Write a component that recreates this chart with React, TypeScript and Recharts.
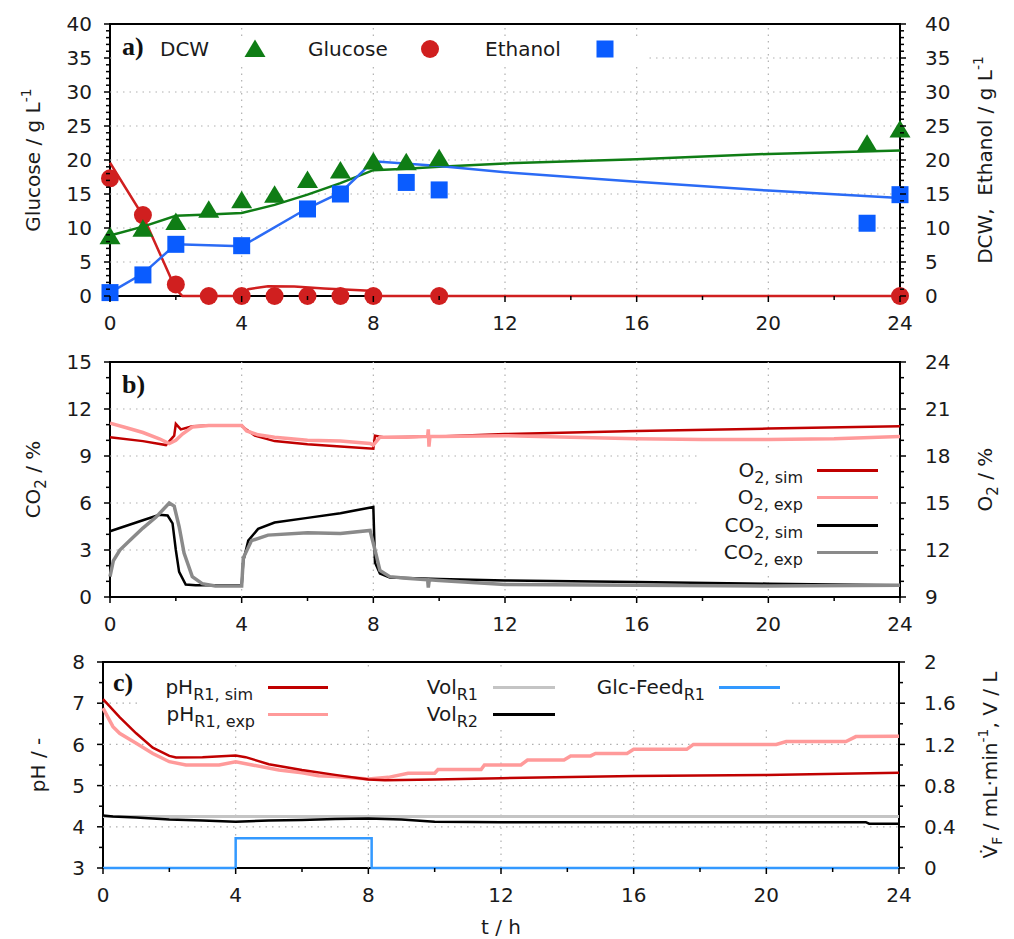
import React from 'react'
import { ComposedChart, Line, Scatter, XAxis, YAxis, ReferenceLine, ReferenceArea, Label } from 'recharts'

const FONT = '"DejaVu Sans", Verdana, sans-serif'
const SERIF = '"Liberation Serif", "DejaVu Serif", serif'

const GREEN = '#0f7d15'
const RED = '#d01f1f'
const BLUE = '#0a5cff'
const BLUE_LINE = '#2b6bf5'
const DARKRED = '#c00000'
const PINK = '#ff9a9a'
const GREY = '#8a8a8a'
const LIGHTGREY = '#c4c4c4'
const FEED = '#3399ff'

// time axis (h)
const xMajor = [0, 4, 8, 12, 16, 20, 24]
const xMinor = [2, 6, 10, 14, 18, 22]
const xGrid = [4, 8, 12, 16, 20]

// ---- a) offline samples
const dcwT = [0, 1, 2, 3, 4, 5, 6, 7, 8, 9, 10, 23, 24]
const dcwExp = [8.7, 9.8, 10.8, 12.6, 14.0, 14.8, 17.0, 18.4, 19.7, 19.6, 20.2, 22.3, 24.4]
const glcT = [0, 1, 2, 3, 4, 5, 6, 7, 8, 10, 24]
const glcExp = [17.3, 11.9, 1.7, 0, 0, 0, 0, 0, 0, 0, 0]
const etohT = [0, 1, 2, 4, 6, 7, 9, 10, 23, 24]
const etohExp = [0.5, 3.1, 7.6, 7.4, 12.8, 15.0, 16.7, 15.6, 10.7, 14.9]

// ---- a) simulation
const dcwSimT = [0, 1, 2, 3, 4, 5, 6, 7, 8, 9, 10, 12, 16, 20, 24]
const dcwSim = [8.9, 10.2, 11.8, 12.0, 12.2, 13.4, 14.9, 16.6, 18.5, 18.7, 19.0, 19.5, 20.1, 20.9, 21.4]
const glcSimT = [0, 1, 2, 2.2, 4, 4.2, 4.8, 5.6, 6.5, 7.6, 8.0, 8.1, 24]
const glcSim = [19.6, 11.8, 1.0, 0, 0, 1.0, 1.45, 1.4, 1.1, 0.85, 0.75, 0, 0]
const etohSimT = [0, 1, 2, 4, 6, 7, 8, 10, 12, 16, 20, 24]
const etohSim = [0.5, 3.3, 7.6, 7.3, 12.9, 15.2, 19.8, 19.1, 18.2, 16.8, 15.5, 14.4]

// ---- b) off-gas
const o2ExpT = [0, 0.5, 1, 1.5, 1.8, 2.0, 2.2, 2.5, 3, 4, 4.15, 4.5, 5, 6, 7, 7.9, 8.0, 8.2, 9, 9.65, 9.67, 9.69, 9.72, 10, 12, 14, 16, 18, 20, 22, 24]
const o2Exp = [20.1, 19.8, 19.5, 19.1, 18.8, 19.0, 19.4, 19.85, 19.95, 19.95, 19.6, 19.35, 19.2, 19.0, 18.95, 18.8, 18.7, 19.2, 19.2, 19.25, 19.7, 18.6, 19.25, 19.25, 19.3, 19.2, 19.1, 19.05, 19.05, 19.1, 19.25]
const o2SimT = [0, 1, 1.7, 1.95, 2.0, 2.15, 2.5, 3, 4, 4.1, 4.4, 5, 6, 7, 8.0, 8.05, 8.3, 10, 12, 16, 20, 24]
const o2Sim = [19.2, 18.95, 18.7, 19.3, 20.05, 19.7, 19.9, 19.95, 19.95, 19.75, 19.3, 18.95, 18.75, 18.6, 18.47, 19.3, 19.2, 19.25, 19.4, 19.6, 19.75, 19.9]
const co2SimT = [0, 0.5, 1, 1.5, 1.75, 1.9, 2.0, 2.1, 2.3, 2.6, 4.0, 4.05, 4.2, 4.5, 5, 6, 7, 8.0, 8.05, 8.2, 8.5, 10, 12, 16, 20, 24]
const co2Sim = [4.2, 4.55, 4.9, 5.25, 5.2, 4.7, 3.0, 1.6, 0.8, 0.75, 0.75, 2.3, 3.6, 4.35, 4.75, 5.05, 5.35, 5.75, 2.2, 1.5, 1.25, 1.15, 1.05, 0.95, 0.85, 0.75]
const co2ExpT = [0, 0.1, 0.3, 0.6, 1, 1.4, 1.8, 1.95, 2.1, 2.25, 2.5, 2.8, 3.2, 4.0, 4.05, 4.3, 4.8, 6, 7, 7.9, 8.05, 8.2, 8.5, 9, 9.65, 9.67, 9.7, 10, 12, 16, 20, 24]
const co2Exp = [1.3, 2.3, 3.0, 3.6, 4.4, 5.1, 6.0, 5.8, 4.5, 2.8, 1.3, 0.85, 0.7, 0.7, 2.5, 3.6, 3.95, 4.1, 4.05, 4.25, 3.0, 1.7, 1.3, 1.2, 1.1, 0.6, 1.1, 1.05, 0.8, 0.75, 0.7, 0.75]

// ---- c) pH, volumes, feed
const phSimT = [0, 0.5, 1, 1.5, 2, 2.2, 3, 4, 4.3, 5, 6, 7, 8, 8.5, 10, 12, 16, 20, 24]
const phSim = [7.1, 6.66, 6.27, 5.92, 5.72, 5.68, 5.69, 5.73, 5.69, 5.52, 5.38, 5.26, 5.15, 5.13, 5.15, 5.18, 5.23, 5.26, 5.31]
const phExpT = [0, 0.3, 0.5, 1, 1.5, 2, 2.5, 3.5, 4, 4.5, 5.3, 6, 6.5, 7, 8, 8.6, 9.2, 10.0, 10.1, 11.4, 11.5, 12.6, 12.8, 13.9, 14.1, 14.7, 14.85, 15.8, 16.0, 17.6, 17.8, 20.3, 20.6, 22.4, 22.7, 24]
const phExp = [6.88, 6.43, 6.27, 6.03, 5.78, 5.58, 5.5, 5.5, 5.58, 5.5, 5.38, 5.31, 5.24, 5.22, 5.16, 5.2, 5.3, 5.3, 5.39, 5.39, 5.5, 5.5, 5.62, 5.62, 5.72, 5.72, 5.78, 5.78, 5.88, 5.88, 6.0, 6.0, 6.07, 6.07, 6.19, 6.2]
const volR1T = [0, 24]
const volR1 = [0.5, 0.5]
const volR2T = [0, 0.3, 1, 2, 3, 4, 5, 6, 7, 8, 9, 10, 12, 23, 23.1, 24]
const volR2 = [0.51, 0.5, 0.49, 0.47, 0.46, 0.45, 0.46, 0.465, 0.475, 0.48, 0.47, 0.45, 0.445, 0.445, 0.43, 0.43]
const feedT = [0, 4, 4, 8.1, 8.1, 24]
const feed = [0, 0, 0.29, 0.29, 0, 0]

// axis ticks
const aMajor = [0, 5, 10, 15, 20, 25, 30, 35, 40]
const aGrid = [5, 10, 15, 20, 25, 30, 35]
const bLeftMajor = [0, 3, 6, 9, 12, 15]
const bRightMajor = [9, 12, 15, 18, 21, 24]
const bGrid = [3, 6, 9, 12]
const cLeftMajor = [3, 4, 5, 6, 7, 8]
const cRightMajor = [0, 0.4, 0.8, 1.2, 1.6, 2]
const cGrid = [4, 5, 6, 7]

const zip = (ts: number[], vs: number[]) => ts.map((t, i) => ({ t, v: vs[i] }))
const steps = (a: number, b: number, s: number) => {
  const r: number[] = []
  for (let i = 0; a + i * s <= b + 1e-9; i++) r.push(Math.round((a + i * s) * 1000) / 1000)
  return r
}
const isIn = (arr: number[], v: number) => arr.some((m) => Math.abs(m - v) < 1e-6)

const TXT = { fontFamily: FONT, fontSize: 20, fill: '#1a1a1a' }

const xTick = (p: any) => {
  const major = isIn(xMajor, p.payload.value)
  return (
    <g>
      <line x1={p.x} x2={p.x} y1={p.y} y2={p.y + (major ? 6 : 4)} stroke="#000" strokeWidth={1.5} />
      {major && (
        <text x={p.x} y={p.y + 34} textAnchor="middle" {...TXT}>
          {p.payload.value}
        </text>
      )}
    </g>
  )
}

const yTick = (majors: number[], side: 'left' | 'right') => (p: any) => {
  const major = isIn(majors, p.payload.value)
  const dir = side === 'left' ? -1 : 1
  return (
    <g>
      <line x1={p.x} x2={p.x + dir * (major ? 6 : 4)} y1={p.y} y2={p.y} stroke="#000" strokeWidth={1.5} />
      {major && (
        <text x={side === 'left' ? p.x - 18 : p.x + 25} y={p.y} dy="0.36em" textAnchor={side === 'left' ? 'end' : 'start'} {...TXT}>
          {p.payload.value}
        </text>
      )}
    </g>
  )
}

const vTitle = (dx: number, body: React.ReactNode) => (props: any) => {
  const vb = props.viewBox
  const cx = vb.x + dx
  const cy = vb.y + vb.height / 2
  return (
    <text x={cx} y={cy} dy="0.36em" transform={`rotate(-90 ${cx} ${cy})`} textAnchor="middle" {...TXT}>
      {body}
    </text>
  )
}

const axisTicks = (majors: number[], minorStep: number) =>
  steps(majors[0], majors[majors.length - 1], minorStep)

const triangle = (color: string) => (p: any) => (
  <polygon points={`${p.cx},${p.cy - 10} ${p.cx - 10.5},${p.cy + 7.5} ${p.cx + 10.5},${p.cy + 7.5}`} fill={color} />
)
const circle = (color: string) => (p: any) => <circle cx={p.cx} cy={p.cy} r={9} fill={color} />
const square = (color: string) => (p: any) => <rect x={p.cx - 8.5} y={p.cy - 8.5} width={17} height={17} fill={color} />

const gridStyle = { stroke: '#b0b0b0', strokeDasharray: '1.5 5', strokeWidth: 1.2 }

const Sub = ({ children }: { children: React.ReactNode }) => (
  <span style={{ fontSize: 16, position: 'relative', top: 6 }}>{children}</span>
)

const legendLine = (color: string, left: number, top: number, width: number) => (
  <div style={{ position: 'absolute', left, top: top - 1.5, width, height: 3, background: color }} />
)

function PanelA() {
  return (
    <ComposedChart width={1014} height={340} margin={{ top: 24, right: 0, bottom: 0, left: 0 }} style={{ position: 'absolute', left: 0, top: 0 }}>
      <XAxis dataKey="t" type="number" domain={[0, 24]} ticks={[...xMajor, ...xMinor].sort((a, b) => a - b)} interval={0} height={44} tickSize={0} tickMargin={0} tickLine={false} axisLine={false} tick={xTick} />
      <YAxis yAxisId="left" orientation="left" type="number" domain={[0, 40]} ticks={axisTicks(aMajor, 1)} interval={0} width={110} tickSize={0} tickMargin={0} tickLine={false} axisLine={false} tick={yTick(aMajor, 'left')}>
        <Label content={vTitle(33, <>Glucose / g L<tspan dy={-9} fontSize={14}>-1</tspan></>)} />
      </YAxis>
      <YAxis yAxisId="right" orientation="right" type="number" domain={[0, 40]} ticks={axisTicks(aMajor, 1)} interval={0} width={114} tickSize={0} tickMargin={0} tickLine={false} axisLine={false} tick={yTick(aMajor, 'right')}>
        <Label content={vTitle(85, <>{'DCW,\u00a0 Ethanol / g L'}<tspan dy={-9} fontSize={14}>-1</tspan></>)} />
      </YAxis>
      {aGrid.map((v) => <ReferenceLine key={'h' + v} yAxisId="left" y={v} {...gridStyle} />)}
      {xGrid.map((v) => <ReferenceLine key={'v' + v} yAxisId="left" x={v} {...gridStyle} />)}
      <ReferenceArea yAxisId="left" x1={0} x2={24} y1={0} y2={40} fill="none" stroke="#000" strokeWidth={2} ifOverflow="visible" />
      <Line yAxisId="left" data={zip(glcSimT, glcSim)} dataKey="v" stroke={RED} strokeWidth={2.5} dot={false} isAnimationActive={false} />
      <Line yAxisId="right" data={zip(dcwSimT, dcwSim)} dataKey="v" stroke={GREEN} strokeWidth={2.5} dot={false} isAnimationActive={false} />
      <Line yAxisId="right" data={zip(etohSimT, etohSim)} dataKey="v" stroke={BLUE_LINE} strokeWidth={2.5} dot={false} isAnimationActive={false} />
      <Scatter yAxisId="left" data={zip(glcT, glcExp)} dataKey="v" shape={circle(RED)} isAnimationActive={false} />
      <Scatter yAxisId="right" data={zip(etohT, etohExp)} dataKey="v" shape={square(BLUE)} isAnimationActive={false} />
      <Scatter yAxisId="right" data={zip(dcwT, dcwExp)} dataKey="v" shape={triangle(GREEN)} isAnimationActive={false} />
    </ComposedChart>
  )
}

function PanelB() {
  return (
    <ComposedChart width={1014} height={300} margin={{ top: 22, right: 0, bottom: 0, left: 0 }} style={{ position: 'absolute', left: 0, top: 340 }}>
      <XAxis dataKey="t" type="number" domain={[0, 24]} ticks={[...xMajor, ...xMinor].sort((a, b) => a - b)} interval={0} height={43} tickSize={0} tickMargin={0} tickLine={false} axisLine={false} tick={xTick} />
      <YAxis yAxisId="left" orientation="left" type="number" domain={[0, 15]} ticks={axisTicks(bLeftMajor, 1)} interval={0} width={110} tickSize={0} tickMargin={0} tickLine={false} axisLine={false} tick={yTick(bLeftMajor, 'left')}>
        <Label content={vTitle(33, <>CO<tspan dy={6} fontSize={15}>2</tspan><tspan dy={-6}> / %</tspan></>)} />
      </YAxis>
      <YAxis yAxisId="right" orientation="right" type="number" domain={[9, 24]} ticks={axisTicks(bRightMajor, 1)} interval={0} width={114} tickSize={0} tickMargin={0} tickLine={false} axisLine={false} tick={yTick(bRightMajor, 'right')}>
        <Label content={vTitle(85, <>O<tspan dy={6} fontSize={15}>2</tspan><tspan dy={-6}> / %</tspan></>)} />
      </YAxis>
      {bGrid.map((v) => <ReferenceLine key={'h' + v} yAxisId="left" y={v} {...gridStyle} />)}
      {xGrid.map((v) => <ReferenceLine key={'v' + v} yAxisId="left" x={v} {...gridStyle} />)}
      <ReferenceArea yAxisId="left" x1={0} x2={24} y1={0} y2={15} fill="none" stroke="#000" strokeWidth={2} ifOverflow="visible" />
      <Line yAxisId="right" data={zip(o2SimT, o2Sim)} dataKey="v" stroke={DARKRED} strokeWidth={2.5} dot={false} isAnimationActive={false} />
      <Line yAxisId="right" data={zip(o2ExpT, o2Exp)} dataKey="v" stroke={PINK} strokeWidth={3.5} dot={false} isAnimationActive={false} />
      <Line yAxisId="left" data={zip(co2SimT, co2Sim)} dataKey="v" stroke="#000" strokeWidth={2.5} dot={false} isAnimationActive={false} />
      <Line yAxisId="left" data={zip(co2ExpT, co2Exp)} dataKey="v" stroke={GREY} strokeWidth={3.5} dot={false} isAnimationActive={false} />
    </ComposedChart>
  )
}

function PanelC() {
  return (
    <ComposedChart width={1014} height={299} margin={{ top: 22, right: 0, bottom: 0, left: 0 }} style={{ position: 'absolute', left: 0, top: 640 }}>
      <XAxis dataKey="t" type="number" domain={[0, 24]} ticks={[...xMajor, ...xMinor].sort((a, b) => a - b)} interval={0} height={71} tickSize={0} tickMargin={0} tickLine={false} axisLine={false} tick={xTick}>
        <Label value="t / h" position="insideBottom" offset={5} style={{ fontFamily: FONT, fontSize: 20, fill: '#1a1a1a' }} />
      </XAxis>
      <YAxis yAxisId="left" orientation="left" type="number" domain={[3, 8]} ticks={axisTicks(cLeftMajor, 0.5)} interval={0} width={103} tickSize={0} tickMargin={0} tickLine={false} axisLine={false} tick={yTick(cLeftMajor, 'left')}>
        <Label content={vTitle(38, <>pH / -</>)} />
      </YAxis>
      <YAxis yAxisId="right" orientation="right" type="number" domain={[0, 2]} ticks={axisTicks(cRightMajor, 0.2)} interval={0} width={115} tickSize={0} tickMargin={0} tickLine={false} axisLine={false} tick={yTick(cRightMajor, 'right')}>
        <Label
          content={vTitle(
            91,
            <>
              V{'\u0307'}
              <tspan dy={5} fontSize={14}>F</tspan>
              <tspan dy={-5}> / mL·min</tspan>
              <tspan dy={-9} fontSize={14}>-1</tspan>
              <tspan dy={9}>, V / L</tspan>
            </>
          )}
        />
      </YAxis>
      {cGrid.map((v) => <ReferenceLine key={'h' + v} yAxisId="left" y={v} {...gridStyle} />)}
      {xGrid.map((v) => <ReferenceLine key={'v' + v} yAxisId="left" x={v} {...gridStyle} />)}
      <ReferenceArea yAxisId="left" x1={0} x2={24} y1={3} y2={8} fill="none" stroke="#000" strokeWidth={2} ifOverflow="visible" />
      <Line yAxisId="right" data={zip(volR1T, volR1)} dataKey="v" stroke={LIGHTGREY} strokeWidth={3} dot={false} isAnimationActive={false} />
      <Line yAxisId="right" data={zip(volR2T, volR2)} dataKey="v" stroke="#000" strokeWidth={2.5} dot={false} isAnimationActive={false} />
      <Line yAxisId="left" data={zip(phExpT, phExp)} dataKey="v" stroke={PINK} strokeWidth={3.5} dot={false} isAnimationActive={false} />
      <Line yAxisId="left" data={zip(phSimT, phSim)} dataKey="v" stroke={DARKRED} strokeWidth={2.5} dot={false} isAnimationActive={false} />
      <Line yAxisId="right" data={zip(feedT, feed)} dataKey="v" stroke={FEED} strokeWidth={2.5} dot={false} isAnimationActive={false} />
    </ComposedChart>
  )
}

const legendText: React.CSSProperties = { position: 'absolute', fontFamily: FONT, fontSize: 20, color: '#1a1a1a', whiteSpace: 'nowrap', lineHeight: '26px' }
const panelTag: React.CSSProperties = { position: 'absolute', fontFamily: SERIF, fontWeight: 'bold', fontSize: 26, color: '#111', lineHeight: '30px' }

export default function App() {
  return (
    <div style={{ position: 'absolute', left: 0, top: 0, width: 1014, height: 939, background: '#fff', overflow: 'hidden' }}>
      <PanelA />
      <PanelB />
      <PanelC />

      {/* a) legend */}
      <div style={{ position: 'absolute', left: 112, top: 36, width: 536, height: 26, background: '#fff' }}>
        <div style={{ ...panelTag, left: 10, top: -4 }}>a)</div>
        <div style={{ ...legendText, left: 48, top: 0 }}>DCW</div>
        <svg style={{ position: 'absolute', left: 131, top: 0 }} width={24} height={26}>
          <polygon points="12,3.5 1.5,21 22.5,21" fill={GREEN} />
        </svg>
        <div style={{ ...legendText, left: 196, top: 0 }}>Glucose</div>
        <svg style={{ position: 'absolute', left: 306, top: 0 }} width={24} height={26}>
          <circle cx={12} cy={13} r={9} fill={RED} />
        </svg>
        <div style={{ ...legendText, left: 373, top: 0 }}>Ethanol</div>
        <svg style={{ position: 'absolute', left: 481, top: 0 }} width={24} height={26}>
          <rect x={3.5} y={4.5} width={17} height={17} fill={BLUE} />
        </svg>
      </div>

      {/* b) */}
      <div style={{ ...panelTag, left: 122, top: 370 }}>b)</div>
      <div style={{ position: 'absolute', left: 700, top: 448, width: 185, height: 124, background: '#fff' }}>
        <div style={{ ...legendText, left: 0, width: 103, textAlign: 'right', top: 470 - 448 - 13 }}>
          O<Sub>2, sim</Sub>
        </div>
        {legendLine(DARKRED, 117, 470 - 448, 61)}
        <div style={{ ...legendText, left: 0, width: 103, textAlign: 'right', top: 497 - 448 - 13 }}>
          O<Sub>2, exp</Sub>
        </div>
        {legendLine(PINK, 117, 497 - 448, 61)}
        <div style={{ ...legendText, left: 0, width: 103, textAlign: 'right', top: 525 - 448 - 13 }}>
          CO<Sub>2, sim</Sub>
        </div>
        {legendLine('#000', 117, 525 - 448, 61)}
        <div style={{ ...legendText, left: 0, width: 103, textAlign: 'right', top: 552 - 448 - 13 }}>
          CO<Sub>2, exp</Sub>
        </div>
        {legendLine(GREY, 117, 552 - 448, 61)}
      </div>

      {/* c) */}
      <div style={{ ...panelTag, left: 113, top: 668 }}>c)</div>
      <div style={{ position: 'absolute', left: 142, top: 670, width: 650, height: 56, background: '#fff' }}>
        <div style={{ ...legendText, left: 0, width: 111, textAlign: 'right', top: 17 - 13 }}>
          pH<Sub>R1, sim</Sub>
        </div>
        {legendLine(DARKRED, 126, 17, 60)}
        <div style={{ ...legendText, left: 0, width: 113, textAlign: 'right', top: 44 - 13 }}>
          pH<Sub>R1, exp</Sub>
        </div>
        {legendLine(PINK, 126, 44, 60)}
        <div style={{ ...legendText, left: 166, width: 170, textAlign: 'right', top: 17 - 13 }}>
          Vol<Sub>R1</Sub>
        </div>
        {legendLine(LIGHTGREY, 351, 17, 62)}
        <div style={{ ...legendText, left: 166, width: 170, textAlign: 'right', top: 44 - 13 }}>
          Vol<Sub>R2</Sub>
        </div>
        {legendLine('#000', 351, 44, 62)}
        <div style={{ ...legendText, left: 366, width: 197, textAlign: 'right', top: 17 - 13 }}>
          Glc-Feed<Sub>R1</Sub>
        </div>
        {legendLine(FEED, 577, 17, 61)}
      </div>
    </div>
  )
}
